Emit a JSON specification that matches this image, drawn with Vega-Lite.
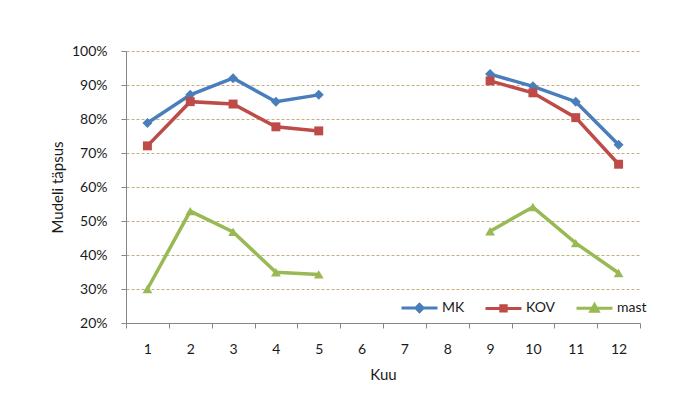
{
  "$schema": "https://vega.github.io/schema/vega-lite/v6.json",
  "autosize": "none",
  "width": 514,
  "height": 272,
  "padding": {"left": 126, "top": 51, "right": 44, "bottom": 97},
  "background": "white",
  "config": {
    "view": {"stroke": null},
    "font": "Lato",
    "axis": {
      "domainColor": "#868686",
      "tickColor": "#868686",
      "tickSize": 5,
      "labelColor": "#1a1a1a",
      "labelFontSize": 14,
      "titleColor": "#1a1a1a",
      "titleFontSize": 15,
      "titleFontWeight": "normal"
    }
  },
  "data": {
    "values": [
      {"Kuu": 1, "seeria": "MK", "tapsus": 0.788},
      {"Kuu": 2, "seeria": "MK", "tapsus": 0.871},
      {"Kuu": 3, "seeria": "MK", "tapsus": 0.920},
      {"Kuu": 4, "seeria": "MK", "tapsus": 0.851},
      {"Kuu": 5, "seeria": "MK", "tapsus": 0.871},
      {"Kuu": 6, "seeria": "MK", "tapsus": null},
      {"Kuu": 7, "seeria": "MK", "tapsus": null},
      {"Kuu": 8, "seeria": "MK", "tapsus": null},
      {"Kuu": 9, "seeria": "MK", "tapsus": 0.932},
      {"Kuu": 10, "seeria": "MK", "tapsus": 0.896},
      {"Kuu": 11, "seeria": "MK", "tapsus": 0.851},
      {"Kuu": 12, "seeria": "MK", "tapsus": 0.724},
      {"Kuu": 1, "seeria": "KOV", "tapsus": 0.721},
      {"Kuu": 2, "seeria": "KOV", "tapsus": 0.851},
      {"Kuu": 3, "seeria": "KOV", "tapsus": 0.844},
      {"Kuu": 4, "seeria": "KOV", "tapsus": 0.777},
      {"Kuu": 5, "seeria": "KOV", "tapsus": 0.765},
      {"Kuu": 6, "seeria": "KOV", "tapsus": null},
      {"Kuu": 7, "seeria": "KOV", "tapsus": null},
      {"Kuu": 8, "seeria": "KOV", "tapsus": null},
      {"Kuu": 9, "seeria": "KOV", "tapsus": 0.912},
      {"Kuu": 10, "seeria": "KOV", "tapsus": 0.877},
      {"Kuu": 11, "seeria": "KOV", "tapsus": 0.804},
      {"Kuu": 12, "seeria": "KOV", "tapsus": 0.667},
      {"Kuu": 1, "seeria": "mast", "tapsus": 0.300},
      {"Kuu": 2, "seeria": "mast", "tapsus": 0.529},
      {"Kuu": 3, "seeria": "mast", "tapsus": 0.468},
      {"Kuu": 4, "seeria": "mast", "tapsus": 0.349},
      {"Kuu": 5, "seeria": "mast", "tapsus": 0.343},
      {"Kuu": 6, "seeria": "mast", "tapsus": null},
      {"Kuu": 7, "seeria": "mast", "tapsus": null},
      {"Kuu": 8, "seeria": "mast", "tapsus": null},
      {"Kuu": 9, "seeria": "mast", "tapsus": 0.470},
      {"Kuu": 10, "seeria": "mast", "tapsus": 0.541},
      {"Kuu": 11, "seeria": "mast", "tapsus": 0.435},
      {"Kuu": 12, "seeria": "mast", "tapsus": 0.347}
    ]
  },
  "encoding": {
    "x": {
      "field": "Kuu",
      "type": "ordinal",
      "title": "Kuu",
      "scale": {"type": "band", "domain": [1, 2, 3, 4, 5, 6, 7, 8, 9, 10, 11, 12], "paddingInner": 0, "paddingOuter": 0},
      "axis": {"labelAngle": 0, "tickBand": "extent", "labelPadding": 14, "titlePadding": 11, "grid": false}
    },
    "y": {
      "field": "tapsus",
      "type": "quantitative",
      "title": "Mudeli täpsus",
      "scale": {"domain": [0.2, 1], "nice": false, "zero": false},
      "axis": {
        "values": [0.2, 0.3, 0.4, 0.5, 0.6, 0.7, 0.8, 0.9, 1.0],
        "format": ".0%",
        "labelPadding": 14,
        "titlePadding": 6,
        "grid": true,
        "gridColor": "#c2b07c",
        "gridDash": [3, 2],
        "gridWidth": 1
      }
    },
    "color": {
      "field": "seeria",
      "type": "nominal",
      "scale": {"domain": ["MK", "KOV", "mast"], "range": ["#4a7ebb", "#be4b48", "#98b954"]},
      "legend": {
        "title": null,
        "orient": "none",
        "direction": "horizontal",
        "legendX": 274,
        "legendY": 237,
        "labelFontSize": 14,
        "labelColor": "#1a1a1a",
        "labelOffset": 3,
        "columnPadding": 14,
        "symbolSize": 1296,
        "symbolStrokeWidth": 3,
        "encode": {
          "symbols": {
            "update": {
              "shape": {"signal": "datum.value === 'MK' ? 'M-1,0H1M-0.2,0L0,-0.2L0.2,0L0,0.2Z' : datum.value === 'KOV' ? 'M-1,0H1M-0.15,-0.15H0.15V0.15H-0.15Z' : 'M-1,0H1M-0.2,0.16L0,-0.2L0.2,0.16Z'"},
              "fill": {"signal": "scale('color', datum.value)"},
              "stroke": {"signal": "scale('color', datum.value)"},
              "strokeWidth": {"value": 3}
            }
          }
        }
      }
    }
  },
  "layer": [
    {
      "mark": {"type": "line", "strokeWidth": 3.5, "invalid": "break-paths-show-domains"}
    },
    {
      "transform": [{"filter": "datum.seeria === 'MK'"}],
      "mark": {"type": "point", "shape": "diamond", "filled": true, "opacity": 1, "size": 100}
    },
    {
      "transform": [{"filter": "datum.seeria === 'KOV'"}],
      "mark": {"type": "point", "shape": "square", "filled": true, "opacity": 1, "size": 80}
    },
    {
      "transform": [{"filter": "datum.seeria === 'mast'"}],
      "mark": {"type": "point", "shape": "triangle-up", "filled": true, "opacity": 1, "size": 95}
    }
  ]
}
